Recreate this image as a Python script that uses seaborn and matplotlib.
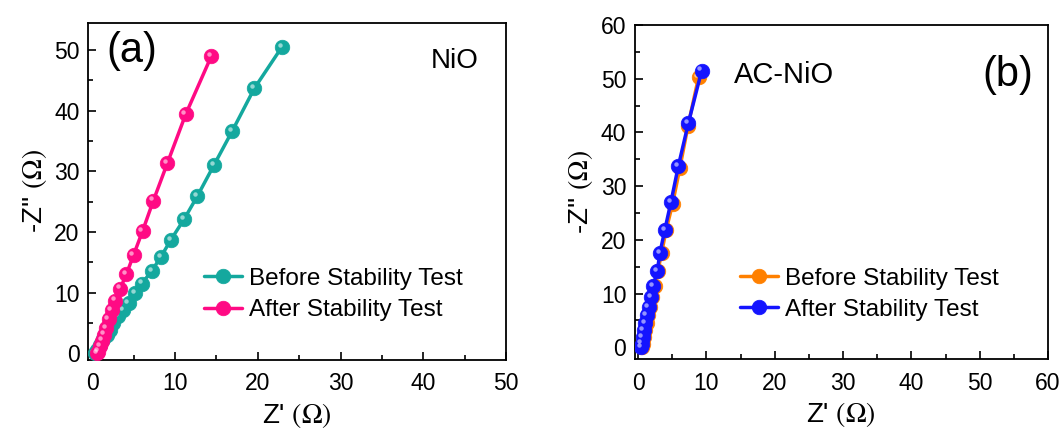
import numpy as np
import pandas as pd
import matplotlib
matplotlib.use("Agg")
import matplotlib.pyplot as plt
import matplotlib.transforms as mtransforms
from matplotlib.ticker import MultipleLocator
import seaborn as sns

sns.set_style("white")
plt.rcParams["font.family"] = ["Liberation Sans", "DejaVu Sans"]
plt.rcParams["mathtext.fontset"] = "stix"
plt.rcParams["text.color"] = "black"
plt.rcParams["axes.labelcolor"] = "black"
plt.rcParams["xtick.color"] = "black"
plt.rcParams["ytick.color"] = "black"

# (a) NiO
nio_before_x = [22.9, 19.6, 16.9, 14.7, 12.7, 11.1, 9.5, 8.3, 7.2, 6.0, 5.2, 4.4, 3.75,
                3.15, 2.55, 2.15, 1.76, 1.35, 0.96, 0.56, 0.3]
nio_before_y = [50.45, 43.7, 36.6, 31.0, 25.9, 22.1, 18.7, 15.9, 13.6, 11.5, 9.9, 8.3, 7.2,
                6.1, 5.0, 3.9, 3.1, 2.3, 1.4, 0.6, 0.0]
nio_after_x = [14.4, 11.3, 9.1, 7.4, 6.1, 5.0, 4.15, 3.4, 2.8, 2.35, 2.0, 1.68, 1.44,
               1.2, 0.96, 0.75, 0.6]
nio_after_y = [49.0, 39.4, 31.4, 25.2, 20.2, 16.2, 13.1, 10.7, 8.7, 7.1, 5.6, 4.2, 3.1,
               2.1, 1.2, 0.3, 0.0]

# (b) AC-NiO
ac_before_x = [8.85, 7.3, 6.1, 5.05, 4.1, 3.45, 2.9, 2.5, 2.1, 1.8, 1.5, 1.25, 1.0,
               0.85, 0.7, 0.55]
ac_before_y = [50.3, 41.2, 33.3, 26.7, 21.8, 17.6, 14.2, 11.4, 9.4, 7.5, 6.0, 4.5, 3.2,
               1.9, 0.7, 0.0]
ac_after_x = [9.3, 7.35, 5.9, 4.8, 3.9, 3.2, 2.8, 2.2, 1.85, 1.55, 1.26, 1.0, 0.8,
              0.67, 0.53, 0.44]
ac_after_y = [51.5, 41.7, 33.8, 27.0, 21.8, 17.6, 14.2, 11.4, 9.4, 7.5, 6.0, 4.5, 3.2,
              1.9, 0.7, 0.0]

labels = ["Before Stability Test", "After Stability Test"]
colors_a = ["#14A89E", "#FF0A84"]
colors_b = ["#FF8000", "#1414FF"]


def make_df(before_x, before_y, after_x, after_y):
    return pd.concat([
        pd.DataFrame({"zr": before_x, "zi": before_y, "series": labels[0]}),
        pd.DataFrame({"zr": after_x, "zi": after_y, "series": labels[1]}),
    ], ignore_index=True)


def draw_panel(ax, df, colors, xmax, ylim, legend_anchor):
    for i, (lab, col) in enumerate(zip(labels, colors)):
        sub = df[df["series"] == lab]
        sns.lineplot(data=sub, x="zr", y="zi", sort=False, color=col, marker="o",
                     markersize=10.5, linewidth=2.5, markeredgecolor=col,
                     markeredgewidth=0.5, label=lab, ax=ax, zorder=3 + i)
        # small glossy highlight on each sphere
        off = mtransforms.offset_copy(ax.transData, fig=ax.figure, x=-1.6, y=1.6,
                                      units="points")
        ax.plot(sub["zr"], sub["zi"], "o", ms=3.2, color="white", alpha=0.55,
                mec="none", transform=off, zorder=3.5 + i)
    ax.set_xlim(-0.5, xmax)
    ax.set_ylim(*ylim)
    ax.xaxis.set_major_locator(MultipleLocator(10))
    ax.xaxis.set_minor_locator(MultipleLocator(5))
    ax.yaxis.set_major_locator(MultipleLocator(10))
    ax.yaxis.set_minor_locator(MultipleLocator(5))
    ax.tick_params(which="both", direction="in", bottom=True, left=True,
                   top=False, right=False, width=1.2, labelsize=16.5)
    ax.tick_params(axis="x", pad=9)
    ax.tick_params(axis="y", pad=6)
    ax.tick_params(which="major", length=6)
    ax.tick_params(which="minor", length=3.5)
    for s in ax.spines.values():
        s.set_visible(True)
        s.set_color("black")
        s.set_linewidth(1.3)
    ax.set_xlabel(r"Z' $(\Omega)$", fontsize=20, labelpad=4)
    ax.set_ylabel(r"-Z'' $(\Omega)$", fontsize=20, labelpad=4)
    ax.legend(frameon=False, loc="lower right", bbox_to_anchor=legend_anchor,
              fontsize=17.5, handlelength=1.55, handletextpad=0.3,
              labelspacing=0.38, borderaxespad=0.0)


fig = plt.figure(figsize=(10.64, 4.28), dpi=100)
ax_a = fig.add_axes([0.0827, 0.160, 0.393, 0.787])
ax_b = fig.add_axes([0.5965, 0.161, 0.3885, 0.7805])

draw_panel(ax_a, make_df(nio_before_x, nio_before_y, nio_after_x, nio_after_y),
           colors_a, 50, (-1, 54.5), (0.92, 0.085))
ax_a.text(0.045, 0.915, "(a)", transform=ax_a.transAxes, fontsize=30, va="center")
ax_a.text(0.935, 0.885, "NiO", transform=ax_a.transAxes, fontsize=20,
          va="center", ha="right")

draw_panel(ax_b, make_df(ac_before_x, ac_before_y, ac_after_x, ac_after_y),
           colors_b, 60, (-2.2, 60), (0.905, 0.085))
ax_b.text(0.24, 0.85, "AC-NiO", transform=ax_b.transAxes, fontsize=21, va="center")
ax_b.text(0.965, 0.85, "(b)", transform=ax_b.transAxes, fontsize=30,
          va="center", ha="right")

fig.savefig("out.png", dpi=100)
